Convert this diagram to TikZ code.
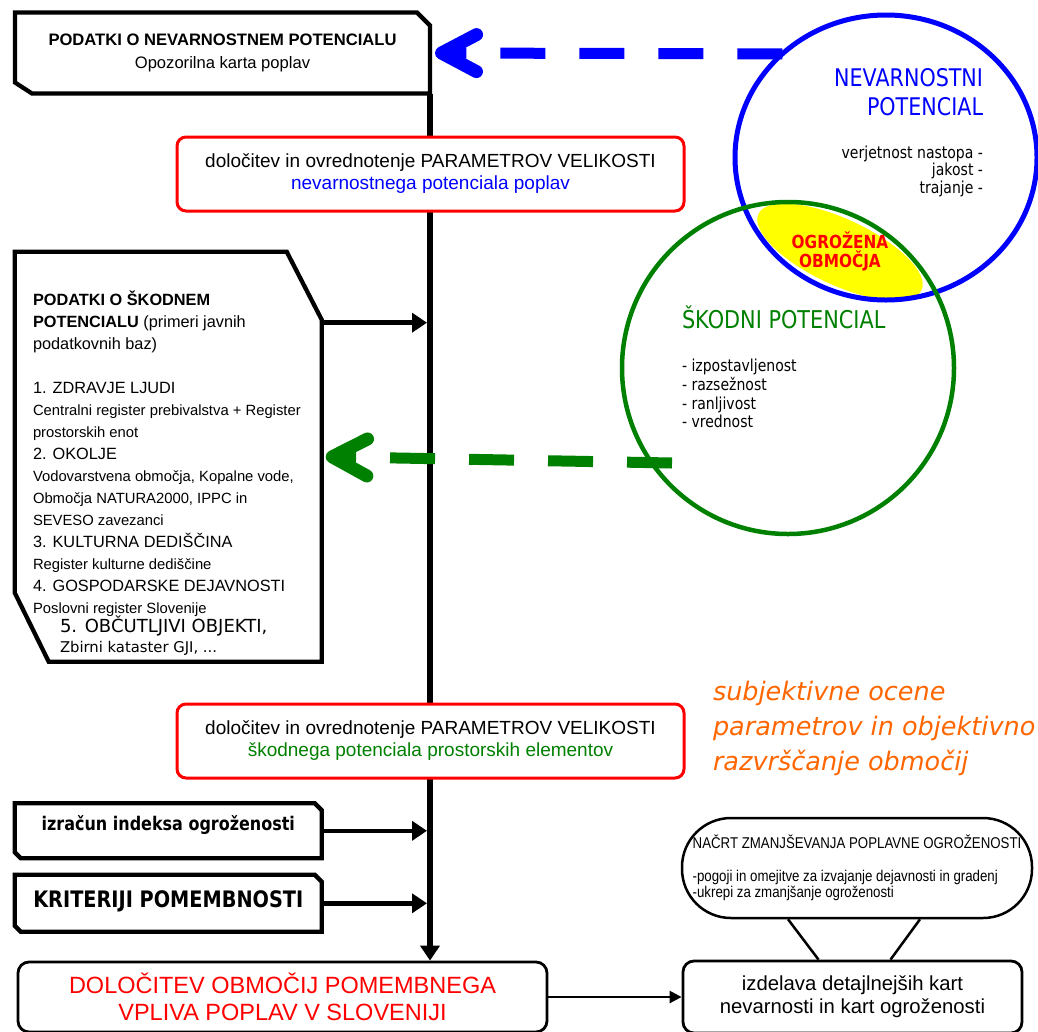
\documentclass[tikz,border=0pt]{standalone}
\usepackage{fontspec}
\setmainfont{Liberation Sans}
\newfontfamily\tahoma[FakeStretch=0.85]{DejaVu Sans}
\newfontfamily\verdana{DejaVu Sans}
\newfontfamily\narrowsans[FakeStretch=0.85]{Liberation Sans}
\usetikzlibrary{arrows.meta,shapes.geometric}
\definecolor{hazardblue}{RGB}{0,0,255}
\definecolor{damagegreen}{RGB}{0,128,0}
\definecolor{paramred}{RGB}{255,0,0}
\definecolor{noteorange}{RGB}{255,102,0}
\definecolor{zoneyellow}{RGB}{255,255,0}

\begin{document}
\begin{tikzpicture}[x=1pt, y=-1pt,
        chambox/.style={inner sep=0pt, outer sep=0pt, minimum width=307pt, align=center},
        edgeline/.style={draw, line width=4.3pt, line join=miter},
        parambox/.style={draw=paramred, line width=3pt, rounded corners=9pt, fill=white,
            inner sep=0pt, minimum width=507pt, minimum height=74pt, align=center,
            font=\fontsize{19}{22}\selectfont},
        resultbox/.style={draw, line width=2.8pt, rounded corners=11pt, fill=white,
            inner sep=0pt, align=center},
        spineline/.style={line width=6pt, -{Triangle[length=15pt, width=19pt]}},
        feedline/.style={line width=4.5pt, shorten >=3pt, -{Triangle[length=15pt, width=19pt]}},
        maplink/.style={line width=2.5pt, -{Triangle[length=12pt, width=12pt]}},
        dashlink/.style={line width=11pt, dash pattern=on 45pt off 34pt,
            -{Straight Barb[length=35pt, width=37pt, line width=13pt, round]}},
        txt/.style={inner sep=0pt, outer sep=0pt}]
    \useasboundingbox (0,0) rectangle (1038,1031);

    % data boxes on the left
    \node at (222.5,53) [chambox, minimum width=415pt, minimum height=81pt,
        font=\fontsize{16.6}{23}\selectfont] (nev)
        {{\bfseries PODATKI O NEVARNOSTNEM POTENCIALU}\\
         Opozorilna karta poplav};
    \draw[edgeline] (nev.north west) -- ([xshift=-13pt]nev.north east) -- ([yshift=-13pt]nev.north east)
        -- (nev.south east) -- ([xshift=17pt]nev.south west) -- ([yshift=11pt]nev.south west) -- cycle;

    \node at (168.2,456.7) [chambox, minimum height=410pt] (sk) {};
    \draw[edgeline] (sk.north west) -- ([xshift=-35pt]sk.north east) -- ([yshift=-68pt]sk.north east)
        -- (sk.south east) -- ([xshift=34pt]sk.south west) -- ([yshift=69pt]sk.south west) -- cycle;
    \node at (33,285) [txt, anchor=north west, align=left,
        font=\fontsize{14.8}{22}\selectfont] (sktext)
        {\rule{0pt}{20pt}{\fontsize{16.3}{22}\selectfont\bfseries PODATKI O ŠKODNEM}\\
         {\fontsize{16.3}{22}\selectfont\textbf{POTENCIALU} (primeri javnih}\\
         {\fontsize{16.3}{22}\selectfont podatkovnih baz)}\\[22pt]
         {\fontsize{16.3}{22}\selectfont 1. ZDRAVJE LJUDI}\\
         Centralni register prebivalstva + Register\\
         prostorskih enot\\
         {\fontsize{16.3}{22}\selectfont 2. OKOLJE}\\
         Vodovarstvena območja, Kopalne vode,\\
         Območja NATURA2000, IPPC in\\
         SEVESO zavezanci\\
         {\fontsize{16.3}{22}\selectfont 3. KULTURNA DEDIŠČINA}\\
         Register kulturne dediščine\\
         {\fontsize{16.3}{22}\selectfont 4. GOSPODARSKE DEJAVNOSTI}\\
         Poslovni register Slovenije};
    \node at (60,613) [txt, anchor=north west, align=left,
        font=\verdana\fontsize{14.8}{20}\selectfont] (sensitive)
        {\rule{0pt}{19pt}{\fontsize{18}{20}\selectfont 5. OBČUTLJIVI OBJEKTI,}\\
         Zbirni kataster GJI, ...};

    \node at (168.3,830.8) [chambox, minimum height=55pt, text height=6pt, text depth=7.6pt,
        font=\tahoma\bfseries\fontsize{18.8}{22}\selectfont] (izr) {izračun indeksa ogroženosti};
    \draw[edgeline] (izr.north west) -- ([xshift=-7pt]izr.north east) -- ([yshift=-7pt]izr.north east)
        -- (izr.south east) -- ([xshift=6pt]izr.south west) -- ([yshift=6pt]izr.south west) -- cycle;

    \node at (168.3,903.3) [chambox, minimum height=57pt, text height=12.4pt, text depth=5pt,
        font=\tahoma\bfseries\fontsize{22.7}{26}\selectfont] (krit) {KRITERIJI POMEMBNOSTI};
    \draw[edgeline] (krit.north west) -- ([xshift=-7pt]krit.north east) -- ([yshift=-7pt]krit.north east)
        -- (krit.south east) -- ([xshift=6pt]krit.south west) -- ([yshift=6pt]krit.south west) -- cycle;

    % results at the bottom
    \node at (282.5,997) [resultbox, minimum width=529pt, minimum height=70pt, text=paramred,
        font=\fontsize{23.5}{27}\selectfont] (odl)
        {DOLOČITEV OBMOČIJ POMEMBNEGA\\ VPLIVA POPLAV V SLOVENIJI};
    \node at (852.5,997) [resultbox, minimum width=339pt, minimum height=72pt,
        font=\fontsize{20.3}{23}\selectfont] (izd)
        {izdelava detajlnejših kart\\ nevarnosti in kart ogroženosti};
    \node at (857,868) [resultbox, line width=2.5pt, rounded corners=49pt, minimum width=350pt,
        minimum height=100pt, align=left, font=\narrowsans\fontsize{15.6}{16.5}\selectfont] (call)
        {NAČRT ZMANJŠEVANJA POPLAVNE OGROŽENOSTI\\[16pt]
         -pogoji in omejitve za izvajanje dejavnosti in gradenj\\
         -ukrepi za zmanjšanje ogroženosti};
    \draw[line width=2.5pt] ([xshift=-69pt]call.south) -- ([xshift=-34pt]izd.north);
    \draw[line width=2.5pt] ([xshift=63pt]call.south) -- ([xshift=38pt]izd.north);
    \draw[maplink] (odl.east) -- (odl.east -| izd.west);

    % main flow
    \draw[spineline] (nev.south east) -- (nev.south east |- odl.north);
    \node at (430.5,174) [parambox] (nevparam)
        {določitev in ovrednotenje PARAMETROV VELIKOSTI\\
         \textcolor{hazardblue}{nevarnostnega potenciala poplav}};
    \node at (430.5,741) [parambox] (skparam)
        {določitev in ovrednotenje PARAMETROV VELIKOSTI\\
         \textcolor{damagegreen}{škodnega potenciala prostorskih elementov}};
    \coordinate (sktap) at ([yshift=-71pt]sk.north east);
    \draw[feedline] (sktap) -- (sktap -| nev.south east);
    \draw[feedline] (izr.east) -- (izr.east -| nev.south east);
    \draw[feedline] (krit.east) -- (krit.east -| nev.south east);

    % potentials
    \fill[zoneyellow, rotate around={-25:(840,252)}] (840,252) ellipse [x radius=90, y radius=33];
    \node at (886,157.5) [ellipse, draw=hazardblue, line width=5pt, minimum width=302pt,
        minimum height=285pt, inner sep=0pt, outer sep=0pt] (nevcirc) {};
    \node at (788,368) [circle, draw=damagegreen, line width=4.5pt, minimum size=332pt,
        inner sep=0pt, outer sep=0pt] (skcirc) {};
    \node at (983,66.7) [txt, anchor=north east, align=right, text=hazardblue,
        font=\tahoma\fontsize{24.3}{28.4}\selectfont] (nevtitle) {\rule{0pt}{20pt}NEVARNOSTNI\\ POTENCIAL};
    \node at (983,144) [txt, anchor=north east, align=right,
        font=\tahoma\fontsize{16.5}{17.5}\selectfont] (nevlist)
        {\rule{0pt}{14pt}verjetnost nastopa -\\ jakost -\\ trajanje -};
    \node at (840,231) [txt, anchor=north, align=center, text=paramred,
        font=\tahoma\bfseries\fontsize{18}{19}\selectfont] (ogr) {\rule{0pt}{17pt}OGROŽENA\\ OBMOČJA};
    \node at (682,328) [txt, anchor=base west, text=damagegreen,
        font=\tahoma\fontsize{24.5}{28}\selectfont] (sktitle) {ŠKODNI POTENCIAL};
    \node at (682,357.7) [txt, anchor=north west, align=left,
        font=\tahoma\fontsize{16.5}{18.7}\selectfont] (sklist)
        {\rule{0pt}{14pt}- izpostavljenost\\ - razsežnost\\ - ranljivost\\ - vrednost};
    \node at (713,673) [txt, anchor=north west, align=left, text=noteorange,
        font=\verdana\itshape\fontsize{25.5}{35}\selectfont] (subj)
        {\rule{0pt}{27pt}subjektivne ocene\\ parametrov in objektivno\\ razvrščanje območij};

    \draw[dashlink, hazardblue] (nevcirc.135) -- ([xshift=5pt]nev.east);
    \coordinate (sktail) at (672,463);
    \draw[dashlink, damagegreen] (sktail) -- ([xshift=4pt]sk.east);
\end{tikzpicture}
\end{document}
